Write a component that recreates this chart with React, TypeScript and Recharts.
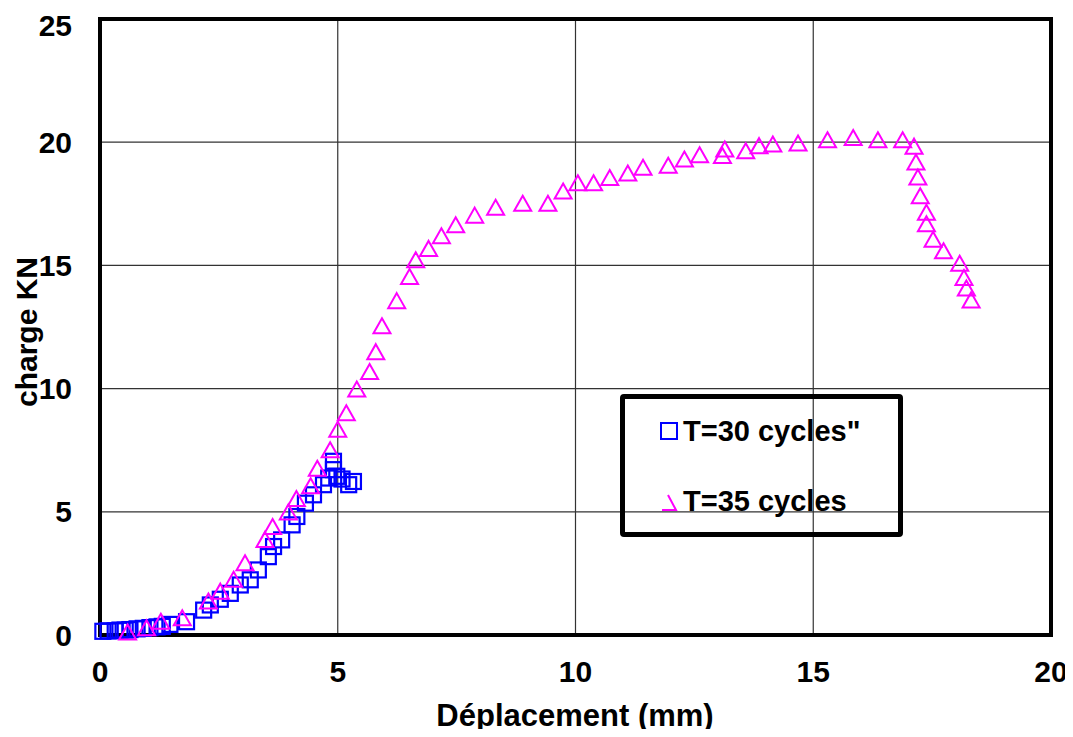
import {
  ScatterChart,
  Scatter,
  XAxis,
  YAxis,
  CartesianGrid,
  ReferenceArea,
} from "recharts";

// T=30 cycles (squares)
const t30X = [
  0.06, 0.17, 0.32, 0.42, 0.53, 0.63, 0.78, 0.91, 1.05, 1.2, 1.31, 1.47, 1.82,
  2.18, 2.32, 2.53, 2.74, 2.95, 3.16, 3.33, 3.54, 3.65, 3.82, 4.04, 4.14, 4.32,
  4.49, 4.7, 4.81, 4.91, 4.91, 4.98, 5.09, 5.23, 5.33,
];
const t30Y = [
  0.15, 0.17, 0.17, 0.2, 0.2, 0.22, 0.25, 0.27, 0.3, 0.33, 0.35, 0.43, 0.54,
  1.01, 1.22, 1.45, 1.69, 2.03, 2.24, 2.64, 3.18, 3.59, 3.86, 4.47, 4.81, 5.35,
  5.69, 6.1, 6.37, 6.71, 7.05, 6.44, 6.33, 6.1, 6.23,
];

// T=35 cycles (triangles)
const t35X = [
  0.58, 0.98, 1.28, 1.73, 2.28, 2.53, 2.81, 3.05, 3.47, 3.63, 3.96, 4.13, 4.43,
  4.57, 4.84, 5.0, 5.18, 5.4, 5.67, 5.8, 5.93, 6.24, 6.51, 6.64, 6.91, 7.18,
  7.48, 7.88, 8.32, 8.89, 9.42, 9.74, 10.05, 10.38, 10.72, 11.1, 11.42, 11.95,
  12.29, 12.61, 13.09, 13.14, 13.58, 13.86, 14.15, 14.68, 15.3, 15.84, 16.36,
  16.88, 17.12, 17.16, 17.2, 17.25, 17.38, 17.38, 17.52, 17.74, 18.08, 18.17,
  18.22, 18.32,
];
const t35Y = [
  0.1, 0.27, 0.54, 0.68, 1.36, 1.76, 2.24, 2.91, 3.86, 4.38, 4.97, 5.52, 6.04,
  6.75, 7.5, 8.33, 9.0, 9.96, 10.67, 11.48, 12.53, 13.55, 14.53, 15.21, 15.67,
  16.18, 16.63, 17.02, 17.34, 17.5, 17.5, 18.0, 18.33, 18.33, 18.55, 18.73,
  18.96, 19.04, 19.3, 19.47, 19.44, 19.7, 19.63, 19.84, 19.91, 19.95, 20.08,
  20.17, 20.08, 20.08, 19.82, 19.18, 18.57, 17.81, 17.14, 16.67, 16.04, 15.57,
  15.07, 14.49, 14.06, 13.58,
];

const xTicks = [0, 5, 10, 15, 20];
const yTicks = [0, 5, 10, 15, 20, 25];

const t30 = t30X.map((x, i) => ({ x, y: t30Y[i] }));
const t35 = t35X.map((x, i) => ({ x, y: t35Y[i] }));

const FONT = "'Liberation Sans', Arial, sans-serif";

const Square = (props: any) => {
  const { cx, cy } = props;
  if (cx == null || cy == null) return null;
  return (
    <rect
      x={cx - 7.5}
      y={cy - 7.5}
      width={15}
      height={15}
      fill="none"
      stroke="#0000FF"
      strokeWidth={2.2}
    />
  );
};

const Triangle = (props: any) => {
  const { cx, cy } = props;
  if (cx == null || cy == null) return null;
  return (
    <path
      d={`M${cx},${cy - 8} L${cx + 8.5},${cy + 7} L${cx - 8.5},${cy + 7} Z`}
      fill="none"
      stroke="#FF00FF"
      strokeWidth={2}
    />
  );
};

const tickStyle = { fill: "#000", fontSize: 30, fontWeight: 700, fontFamily: FONT };

const legendText = {
  position: "absolute" as const,
  left: 58,
  fontSize: 29,
  fontWeight: 700,
  lineHeight: "34px",
  whiteSpace: "nowrap" as const,
};

export default function App() {
  return (
    <div style={{ position: "relative", width: 1065, height: 721, fontFamily: FONT }}>
      <ScatterChart
        width={1065}
        height={721}
        margin={{ top: 11, right: 22, bottom: 44, left: 22 }}
      >
        <CartesianGrid stroke="#333" strokeWidth={1.2} />
        <XAxis
          type="number"
          dataKey="x"
          domain={[0, 20]}
          ticks={xTicks}
          axisLine={false}
          tickLine={false}
          tickSize={0}
          tickMargin={26}
          height={50}
          tick={tickStyle}
        />
        <YAxis
          type="number"
          dataKey="y"
          domain={[0, 25]}
          ticks={yTicks}
          axisLine={false}
          tickLine={false}
          tickSize={0}
          tickMargin={28}
          width={70}
          tick={tickStyle}
        />
        <ReferenceArea
          x1={0}
          x2={20}
          y1={0}
          y2={25}
          fill="none"
          stroke="#000"
          strokeWidth={4}
        />
        <Scatter data={t30} shape={<Square />} isAnimationActive={false} />
        <Scatter data={t35} shape={<Triangle />} isAnimationActive={false} />
      </ScatterChart>

      {/* axis titles */}
      <div
        style={{
          position: "absolute",
          left: 267,
          width: 600,
          top: 690,
          textAlign: "center",
          fontSize: 31,
          fontWeight: 700,
          lineHeight: "36px",
          whiteSpace: "nowrap",
        }}
      >
        Déplacement (mm)
      </div>
      <div
        style={{
          position: "absolute",
          left: -81,
          top: 306,
          width: 200,
          textAlign: "center",
          fontSize: 30,
          fontWeight: 700,
          lineHeight: "36px",
          whiteSpace: "nowrap",
          transform: "rotate(-90deg)",
        }}
      >
        charge KN
      </div>

      {/* legend */}
      <div
        style={{
          position: "absolute",
          left: 612,
          top: 386,
          width: 273,
          height: 133,
          border: "5px solid #000",
          borderRadius: 4,
        }}
      >
        <svg
          width={20}
          height={20}
          style={{ position: "absolute", left: 34, top: 22 }}
        >
          <rect x={2} y={2} width={16} height={16} fill="none" stroke="#0000FF" strokeWidth={2} />
        </svg>
        <div style={{ ...legendText, top: 15 }}>T=30 cycles"</div>
        <svg
          width={20}
          height={20}
          style={{ position: "absolute", left: 35, top: 94 }}
        >
          <path d="M8,2 L16,17 L2,17" fill="none" stroke="#FF00FF" strokeWidth={2} />
        </svg>
        <div style={{ ...legendText, top: 85 }}>T=35 cycles</div>
      </div>
    </div>
  );
}
